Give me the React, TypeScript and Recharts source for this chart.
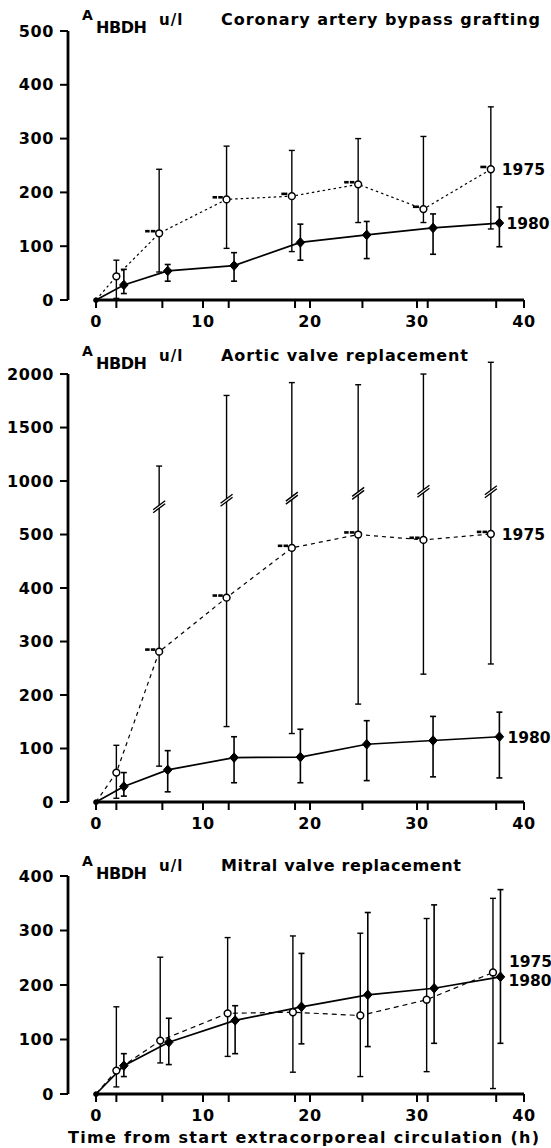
import React from 'react';
import { ComposedChart, Line, Scatter, XAxis, YAxis, ErrorBar, ReferenceLine } from 'recharts';

const FONT = '"DejaVu Sans", sans-serif';

// sampling times (h)
const times1975 = [1.9, 5.9, 12.2, 18.3, 24.5, 30.6, 36.9];
const times1980 = [2.6, 6.7, 12.9, 19.1, 25.3, 31.5, 37.7];
const times1975Mitral = [1.9, 6.0, 12.3, 18.4, 24.7, 30.9, 37.1];
const times1980Mitral = [2.6, 6.8, 13.0, 19.2, 25.4, 31.6, 37.8];
const sampleTicks = [1.9, 6.2, 12.4, 18.6, 24.9, 31.0, 37.4];
const labelTicks = [0, 10, 20, 30, 40];

// Coronary artery bypass grafting
const cabg1975Mean = [44, 124, 187, 193, 215, 169, 243];
const cabg1975Low = [3, 52, 96, 90, 144, 144, 132];
const cabg1975High = [74, 243, 286, 278, 300, 304, 359];
const cabg1975Marks = [0, 2, 2, 1, 2, 1, 1];
const cabg1980Mean = [28, 54, 64, 107, 121, 134, 143];
const cabg1980Low = [12, 35, 35, 74, 77, 85, 99];
const cabg1980High = [57, 66, 88, 141, 146, 160, 173];

// Aortic valve replacement
const avr1975Mean = [55, 281, 382, 475, 500, 490, 505];
const avr1975Low = [7, 67, 141, 128, 183, 239, 258];
const avr1975High = [106, 1140, 1800, 1920, 1900, 2000, 2110];
const avr1975Breaks = [null, 760, 820, 840, 885, 905, 900];
const avr1975Marks = [0, 2, 2, 2, 2, 2, 2];
const avr1980Mean = [29, 60, 83, 84, 108, 115, 122];
const avr1980Low = [11, 19, 36, 36, 40, 47, 45];
const avr1980High = [55, 96, 122, 136, 152, 160, 168];

// Mitral valve replacement
const mvr1975Mean = [43, 98, 148, 150, 144, 173, 223];
const mvr1975Low = [13, 57, 69, 40, 32, 41, 10];
const mvr1975High = [160, 251, 287, 290, 295, 322, 359];
const mvr1980Mean = [52, 95, 135, 160, 182, 194, 215];
const mvr1980Low = [32, 54, 74, 92, 87, 93, 93];
const mvr1980High = [74, 139, 162, 258, 333, 347, 375];

const ticks400 = [0, 100, 200, 300, 400];
const ticks500 = [0, 100, 200, 300, 400, 500];
const ticksAortic = [0, 100, 200, 300, 400, 500, 1000, 1500, 2000];

const identity = (v: number) => v;
// aortic panel: axis compressed 5x above 500
const brokenScale = (v: number) => (v <= 500 ? v : 500 + (v - 500) / 5);
const brokenInverse = (d: number) => (d <= 500 ? d : 500 + (d - 500) * 5);

type Pt = { t: number; v: number; err?: [number, number]; mk?: number };

function buildSeries(
  times: number[], mean: number[], low: number[], high: number[],
  marks: number[] | null, tf: (v: number) => number,
): Pt[] {
  const pts: Pt[] = [{ t: 0, v: 0 }];
  times.forEach((t, i) => {
    const v = tf(mean[i]);
    pts.push({ t, v, err: [v - tf(low[i]), tf(high[i]) - v], mk: marks ? marks[i] : 0 });
  });
  return pts;
}

const XMIN = -2.62;

function makeDot(open: boolean, year: string, count: number, dx: number, dy: number) {
  return (props: any) => {
    const { cx, cy, index, payload } = props;
    if (cx == null || cy == null) return <g key={`d${index}`} />;
    if (index === 0) return <circle key={`d${index}`} cx={cx} cy={cy} r={2.6} fill="#000" />;
    const mk = payload?.mk ?? 0;
    return (
      <g key={`d${index}`}>
        {mk === 2 && (
          <>
            <rect x={cx - 14} y={cy - 3.4} width={4.5} height={2.6} fill="#000" />
            <rect x={cx - 8.3} y={cy - 3.4} width={4.5} height={2.6} fill="#000" />
          </>
        )}
        {mk === 1 && <rect x={cx - 10.5} y={cy - 3.6} width={6} height={2.6} fill="#000" />}
        {open ? (
          <circle cx={cx} cy={cy} r={3.4} fill="#fff" stroke="#000" strokeWidth={1.5} />
        ) : (
          <path d={`M${cx},${cy - 4.8} L${cx + 4.3},${cy} L${cx},${cy + 4.8} L${cx - 4.3},${cy} Z`} fill="#000" stroke="#000" strokeWidth={1} strokeLinejoin="round" />
        )}
        {index === count - 1 && (
          <text x={cx + dx} y={cy + 6 + dy} fontFamily={FONT} fontWeight="bold" fontSize={15.5} fill="#000">
            {year}
          </text>
        )}
      </g>
    );
  };
}

const BreakMark = (props: any) => {
  const { cx, cy } = props;
  if (cx == null || cy == null) return <g />;
  return (
    <g>
      <polygon points={`${cx - 6},${cy + 6} ${cx + 6},${cy - 3} ${cx + 6},${cy - 6} ${cx - 6},${cy + 3}`} fill="#fff" />
      <line x1={cx - 6} y1={cy + 6} x2={cx + 6} y2={cy - 3} stroke="#000" strokeWidth={1.4} />
      <line x1={cx - 6} y1={cy + 3} x2={cx + 6} y2={cy - 6} stroke="#000" strokeWidth={1.4} />
    </g>
  );
};

type PanelProps = {
  top: number; height: number; marginTop: number;
  yDomain: [number, number]; yTicks: number[]; yAxisTop: number;
  tf: (v: number) => number; inv: (v: number) => number;
  s1975: Pt[]; s1980: Pt[]; breaks?: { t: number; v: number }[];
  dash: string; lab1975: [number, number]; lab1980: [number, number];
};

const tickStyle = { fill: '#000', fontSize: 16, fontWeight: 'bold', fontFamily: FONT, letterSpacing: 0.6 };

function Panel(p: PanelProps) {
  const xTicks = [...labelTicks, ...sampleTicks].sort((a, b) => a - b);
  return (
    <div style={{ position: 'absolute', left: 0, top: p.top }}>
      <ComposedChart width={551} height={p.height} margin={{ top: p.marginTop, right: 27, bottom: 10, left: 0 }}>
        <XAxis
          type="number" dataKey="t" domain={[XMIN, 40]} ticks={xTicks} interval={0}
          axisLine={false} tickLine={{ stroke: '#000', strokeWidth: 2 }} tickSize={8} tickMargin={8}
          tickFormatter={(v: number) => (labelTicks.includes(v) ? String(v) : '')}
          tick={tickStyle} height={30}
        />
        <YAxis
          type="number" domain={p.yDomain} ticks={p.yTicks.map(p.tf)} interval={0} width={68}
          axisLine={false} tickLine={{ stroke: '#000', strokeWidth: 2 }} tickSize={8} tickMargin={6}
          tickFormatter={(v: number) => String(Math.round(p.inv(v)))} tick={tickStyle}
        />
        <ReferenceLine segment={[{ x: XMIN, y: 0 }, { x: XMIN, y: p.yAxisTop }]} stroke="#000" strokeWidth={2.8} />
        <ReferenceLine segment={[{ x: 0, y: 0 }, { x: 40, y: 0 }]} stroke="#000" strokeWidth={2.8} />
        <Line
          data={p.s1975} dataKey="v" stroke="#000" strokeWidth={1.2} strokeDasharray={p.dash}
          dot={makeDot(true, '1975', p.s1975.length, p.lab1975[0], p.lab1975[1])}
          activeDot={false} isAnimationActive={false}
        >
          <ErrorBar dataKey="err" width={3} stroke="#000" strokeWidth={1.4} direction="y" />
        </Line>
        <Line
          data={p.s1980} dataKey="v" stroke="#000" strokeWidth={1.7}
          dot={makeDot(false, '1980', p.s1980.length, p.lab1980[0], p.lab1980[1])}
          activeDot={false} isAnimationActive={false}
        >
          <ErrorBar dataKey="err" width={3} stroke="#000" strokeWidth={1.6} direction="y" />
        </Line>
        {p.breaks && (
          <Scatter data={p.breaks} dataKey="v" shape={BreakMark} isAnimationActive={false} />
        )}
      </ComposedChart>
    </div>
  );
}

const titles = [
  { dy: 0, text: 'Coronary artery bypass grafting', width: 319 },
  { dy: 336, text: 'Aortic valve replacement', width: 247 },
  { dy: 846, text: 'Mitral valve replacement', width: 240 },
];

export default function App() {
  const aorticBreaks = times1975
    .map((t, i) => (avr1975Breaks[i] == null ? null : { t, v: brokenScale(avr1975Breaks[i] as number) }))
    .filter(Boolean) as { t: number; v: number }[];

  return (
    <div style={{ position: 'absolute', left: 0, top: 0, width: 551, height: 1148, background: '#fff' }}>
      <Panel
        top={0} height={340} marginTop={31} yDomain={[0, 500]} yTicks={ticks500} yAxisTop={500}
        tf={identity} inv={identity} dash="2.5 3"
        s1975={buildSeries(times1975, cabg1975Mean, cabg1975Low, cabg1975High, cabg1975Marks, identity)}
        s1980={buildSeries(times1980, cabg1980Mean, cabg1980Low, cabg1980High, null, identity)}
        lab1975={[11, 0]} lab1980={[7, 0]}
      />
      <Panel
        top={340} height={502} marginTop={18} yDomain={[0, 830]} yTicks={ticksAortic} yAxisTop={800}
        tf={brokenScale} inv={brokenInverse} dash="4 4"
        s1975={buildSeries(times1975, avr1975Mean, avr1975Low, avr1975High, avr1975Marks, brokenScale)}
        s1980={buildSeries(times1980, avr1980Mean, avr1980Low, avr1980High, null, brokenScale)}
        breaks={aorticBreaks}
        lab1975={[11, 0]} lab1980={[8, 0]}
      />
      <Panel
        top={845} height={289} marginTop={31} yDomain={[0, 400]} yTicks={ticks400} yAxisTop={400}
        tf={identity} inv={identity} dash="5 4"
        s1975={buildSeries(times1975Mitral, mvr1975Mean, mvr1975Low, mvr1975High, null, identity)}
        s1980={buildSeries(times1980Mitral, mvr1980Mean, mvr1980Low, mvr1980High, null, identity)}
        lab1975={[16, -11]} lab1980={[8, 3]}
      />
      <svg width={551} height={1148} style={{ position: 'absolute', left: 0, top: 0, pointerEvents: 'none' }}>
        {titles.map((t) => (
          <g key={t.text} fontFamily={FONT} fontWeight="bold" fill="#000">
            <text x={82} y={20 + t.dy} fontSize={14}>A</text>
            <text x={96} y={33 + t.dy} fontSize={16} textLength={51} lengthAdjust="spacing">HBDH</text>
            <text x={159} y={25 + t.dy} fontSize={15} letterSpacing={1}>u/l</text>
            <text x={221} y={25 + t.dy} fontSize={16} textLength={t.width} lengthAdjust="spacing">{t.text}</text>
          </g>
        ))}
        <text x={68} y={1143} fontFamily={FONT} fontWeight="bold" fontSize={16} fill="#000" textLength={471} lengthAdjust="spacing">
          Time from start extracorporeal circulation (h)
        </text>
      </svg>
    </div>
  );
}
